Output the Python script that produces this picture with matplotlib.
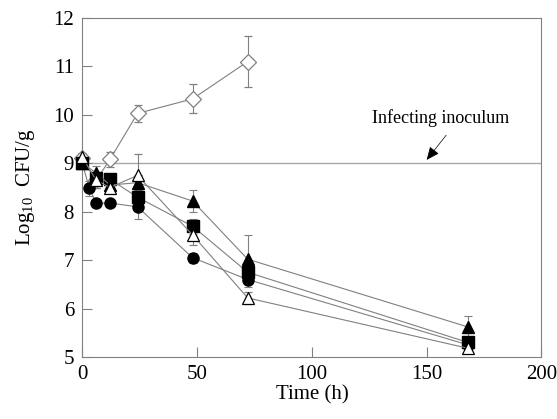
import matplotlib
matplotlib.use("Agg")
import matplotlib.pyplot as plt

plt.rcParams['font.family'] = ['Liberation Serif', 'DejaVu Serif']
plt.rcParams['mathtext.fontset'] = 'custom'
plt.rcParams['mathtext.rm'] = 'Liberation Serif'
plt.rcParams['mathtext.it'] = 'Liberation Serif:italic'

# Data
t_diamond = [0, 6, 12, 24, 48, 72]
y_diamond = [9.1, 8.65, 9.08, 10.03, 10.33, 11.1]
e_diamond = [0.1, 0.15, 0.15, 0.18, 0.3, 0.53]

t_circle = [0, 3, 6, 12, 24, 48, 72, 168]
y_circle = [9.0, 8.48, 8.18, 8.18, 8.1, 7.05, 6.6, 5.25]
e_circle = [0.1, 0.15, 0.05, 0.05, 0.25, 0.1, 0.15, 0.05]

t_square = [0, 6, 12, 24, 48, 72, 168]
y_square = [9.0, 8.7, 8.67, 8.3, 7.7, 6.75, 5.3]
e_square = [0.1, 0.1, 0.1, 0.1, 0.15, 0.1, 0.1]

t_tri = [0, 6, 12, 24, 48, 72, 168]
y_tri = [9.0, 8.8, 8.55, 8.6, 8.22, 7.02, 5.62]
e_tri = [0.1, 0.15, 0.1, 0.15, 0.22, 0.5, 0.23]

t_otri = [0, 6, 12, 24, 48, 72, 168]
y_otri = [9.12, 8.65, 8.5, 8.75, 7.52, 6.22, 5.18]
e_otri = [0.1, 0.15, 0.1, 0.45, 0.2, 0.12, 0.1]

inoculum = 9.0

fig = plt.figure(figsize=(5.57, 4.19), dpi=100)
ax = fig.add_axes([0.148, 0.148, 0.824, 0.809])

gray = '#808080'
ax.axhline(inoculum, color='#a8a8a8', lw=1.0, zorder=1)

common = dict(color=gray, lw=0.8, ecolor=gray, elinewidth=0.8, capsize=3, capthick=0.8, zorder=3)
series = [
    (t_diamond, y_diamond, e_diamond, dict(marker='D', ms=8.5, mfc='white', mec=gray, mew=0.9)),
    (t_circle, y_circle, e_circle, dict(marker='o', ms=8, mfc='black', mec='black')),
    (t_square, y_square, e_square, dict(marker='s', ms=8, mfc='black', mec='black')),
    (t_tri, y_tri, e_tri, dict(marker='^', ms=9, mfc='black', mec='black')),
    (t_otri, y_otri, e_otri, dict(marker='^', ms=9, mfc='white', mec='black', mew=0.9)),
]
for t, y, e, kw in series:
    cont = ax.errorbar(t, y, yerr=e, **kw, **common)
    arts = [cont.lines[0]] + list(cont.lines[1]) + list(cont.lines[2])
    for art in arts:
        art.set_clip_on(False)

ax.text(126, 9.94, 'Infecting inoculum', fontsize=13, va='center', ha='left')
ax.annotate('', xy=(150, 9.07), xytext=(158.5, 9.58),
            arrowprops=dict(arrowstyle='-|>,head_length=0.8,head_width=0.35', color='black', lw=0.5,
                            shrinkA=0, shrinkB=0))

ax.set_xlim(0, 200)
ax.set_ylim(5, 12)
ax.set_xticks([0, 50, 100, 150, 200])
ax.set_yticks([5, 6, 7, 8, 9, 10, 11, 12])
ax.tick_params(direction='in', length=7, width=0.8, color=gray, labelsize=15, pad=6)
for s in ax.spines.values():
    s.set_color(gray)
    s.set_linewidth(0.8)

ax.set_xlabel('Time (h)', fontsize=15, labelpad=1)
ax.set_ylabel('Log$_{10}$  CFU/g', fontsize=15, labelpad=12)

fig.savefig('out.png', dpi=100)
